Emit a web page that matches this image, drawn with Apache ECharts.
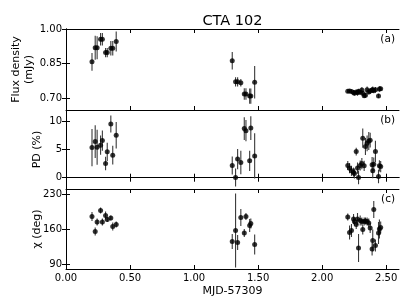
<!DOCTYPE html>
<html><head><meta charset="utf-8">
<script src="https://cdn.jsdelivr.net/npm/echarts@6/dist/echarts.min.js"></script>
<style>html,body{margin:0;padding:0;background:#fff}#c{width:415px;height:300px}</style>
</head><body><div id="c"></div>
<script>
// ---- data ----
const timesEarly = [0.203,0.228,0.243,0.270,0.284,0.309,0.322,0.350,0.365,0.392];
const timesMid   = [1.298,1.324,1.340,1.365,1.392,1.405,1.434,1.443,1.473];
const timesLate  = [2.200,2.214,2.229,2.245,2.252,2.266,2.276,2.284,2.297,2.310,2.317,2.328,2.338,2.351,2.364,2.375,2.390,2.395,2.403,2.416,2.440,2.447,2.457];

const fluxValues = [0.858,0.919,0.919,0.956,0.956,0.898,0.898,0.917,0.917,0.946,
  0.863,0.772,0.772,0.768,0.719,0.719,0.710,0.710,0.770,
  0.731,0.732,0.730,0.726,0.722,0.728,0.724,0.731,0.727,0.736,0.722,0.712,0.714,0.738,0.728,0.732,0.736,0.738,0.734,0.737,0.711,0.741,0.742];
const fluxErrors = [0.038,0.052,0.050,0.027,0.027,0.020,0.020,0.031,0.031,0.043,
  0.038,0.020,0.020,0.016,0.025,0.025,0.033,0.033,0.070,
  0.008,0.007,0.008,0.010,0.009,0.008,0.012,0.010,0.009,0.012,0.010,0.009,0.010,0.014,0.010,0.012,0.012,0.014,0.012,0.012,0.009,0.012,0.010];

const pdValues = [5.34,6.40,5.40,5.76,6.58,2.51,4.58,9.53,4.00,7.53,
  2.16,0.04,3.30,2.70,8.70,8.34,3.00,8.80,3.87,
  2.16,1.69,1.22,0.99,0.75,4.63,1.70,0.04,2.16,2.50,7.00,2.10,5.52,6.10,6.50,6.65,2.28,1.22,2.40,4.63,0.22,2.10,1.98];
const pdErrors = [3.3,2.9,3.1,1.7,1.8,1.2,1.6,1.5,1.65,2.35,
  1.6,1.6,1.8,2.1,2.0,1.9,1.8,2.1,4.0,
  0.8,0.9,0.9,0.8,0.9,0.7,1.0,1.2,0.9,1.0,1.7,0.9,1.5,1.4,1.6,1.3,1.4,1.3,1.2,1.9,1.2,1.0,1.0];

const chiValues = [185,155,174,197,174,187,179,182,165,169,
  135,157,133,183,152,185,167,171,129,
  184,153,157,180,175,169,180,122,177,175,159,175,176,175,172,162,120,137,199,127,152,160,163];
const chiErrors = [9,8,7,6,7,8,5,5,8,6,
  15,74,15,17,8,7,13,10,20,
  7,14,13,10,8,9,12,28,10,8,10,8,7,8,9,10,13,22,17,12,22,19,12];

const xTicks = [0, 0.5, 1.0, 1.5, 2.0, 2.5];
const fluxTicks = [0.70, 0.85, 1.00];
const pdTicks = [0, 5, 10];
const chiTicks = [90, 160, 230];
const panelNames = ['(a)', '(b)', '(c)'];
const yNames = [['Flux density', '(mJy)'], ['PD (%)'], ['χ (deg)']];

// ---- build ----
const times = [...timesEarly, ...timesMid, ...timesLate];
const FONT = 'DejaVu Sans';
const panels = [
  {vals: fluxValues, errs: fluxErrors, ticks: fluxTicks, min: 0.65, max: 1.0, fmt: v => v.toFixed(2)},
  {vals: pdValues, errs: pdErrors, ticks: pdTicks, min: -2, max: 12, fmt: v => String(v)},
  {vals: chiValues, errs: chiErrors, ticks: chiTicks, min: 80, max: 240, fmt: v => String(v)}
];
const gridTops = [29, 110, 189];
const gridHeights = [81, 79, 80];
const L = 66, W = 333;

const grid = [], xAxis = [], yAxis = [], series = [];
const tickStyle = {show: true, inside: true, length: 4, lineStyle: {color: '#000', width: 1}};
const lineStyle = {show: true, lineStyle: {color: '#000', width: 1}};
panels.forEach((p, i) => {
  grid.push({left: L, top: gridTops[i], width: W, height: gridHeights[i], containLabel: false});
  const last = i === panels.length - 1;
  xAxis.push({gridIndex: i, type: 'value', min: 0, max: 2.6, position: 'bottom',
    axisLine: lineStyle, splitLine: {show: false},
    axisTick: Object.assign({customValues: xTicks}, tickStyle),
    axisLabel: {show: last, customValues: xTicks, formatter: v => v.toFixed(2), fontFamily: FONT, fontSize: 10, color: '#000', margin: 4},
    name: last ? 'MJD-57309' : '', nameLocation: 'middle', nameGap: 17,
    nameTextStyle: {fontFamily: FONT, fontSize: 11, color: '#000'}});
  xAxis.push({gridIndex: i, type: 'value', min: 0, max: 2.6, position: 'top',
    axisLine: lineStyle, splitLine: {show: false},
    axisTick: Object.assign({customValues: xTicks}, tickStyle),
    axisLabel: {show: false}});
  yAxis.push({gridIndex: i, type: 'value', min: p.min, max: p.max, position: 'left',
    axisLine: lineStyle, splitLine: {show: false},
    axisTick: Object.assign({customValues: p.ticks}, tickStyle),
    axisLabel: {customValues: p.ticks, formatter: p.fmt, fontFamily: FONT, fontSize: 10, color: '#000', margin: 4}});
  yAxis.push({gridIndex: i, type: 'value', min: p.min, max: p.max, position: 'right',
    axisLine: lineStyle, splitLine: {show: false},
    axisTick: Object.assign({customValues: p.ticks}, tickStyle),
    axisLabel: {show: false}});
  const d = times.map((t, k) => [t, p.vals[k], p.errs[k]]);
  series.push({type: 'custom', xAxisIndex: 2 * i, yAxisIndex: 2 * i, clip: true, silent: true,
    data: d, encode: {x: 0, y: 1},
    renderItem: (params, api) => {
      const t = api.value(0), v = api.value(1), e = api.value(2);
      const a = api.coord([t, v - e]), b = api.coord([t, v + e]);
      return {type: 'line', shape: {x1: a[0], y1: a[1], x2: b[0], y2: b[1]},
        style: {stroke: '#3a3a3a', lineWidth: 1.1}};
    }});
  series.push({type: 'scatter', xAxisIndex: 2 * i, yAxisIndex: 2 * i, symbol: 'circle', symbolSize: 5,
    itemStyle: {color: '#000'}, data: times.map((t, k) => [t, p.vals[k]]), silent: true});
});

const graphic = [{type: 'text', x: 232.5, y: 21, style: {text: 'CTA 102', fontFamily: FONT, fontSize: 14.5, fill: '#000', align: 'center', verticalAlign: 'middle'}}];
panelNames.forEach((n, i) => {
  graphic.push({type: 'text', x: 395, y: gridTops[i] + 10, style: {text: n, fontFamily: FONT, fontSize: 10.5, fill: '#000', align: 'right', verticalAlign: 'middle'}});
});
const nameX = [[16, 29], [37], [37]];
yNames.forEach((lines, i) => {
  const cy = gridTops[i] + gridHeights[i] / 2;
  lines.forEach((s, j) => {
    graphic.push({type: 'text', x: nameX[i][j], y: cy, rotation: Math.PI / 2,
      style: {text: s, fontFamily: FONT, fontSize: 11, fill: '#000', align: 'center', verticalAlign: 'middle'}});
  });
});

const chart = echarts.init(document.getElementById('c'), null, {renderer: 'canvas'});
chart.setOption({animation: false, backgroundColor: '#fff', grid, xAxis, yAxis, series, graphic});
</script></body></html>
